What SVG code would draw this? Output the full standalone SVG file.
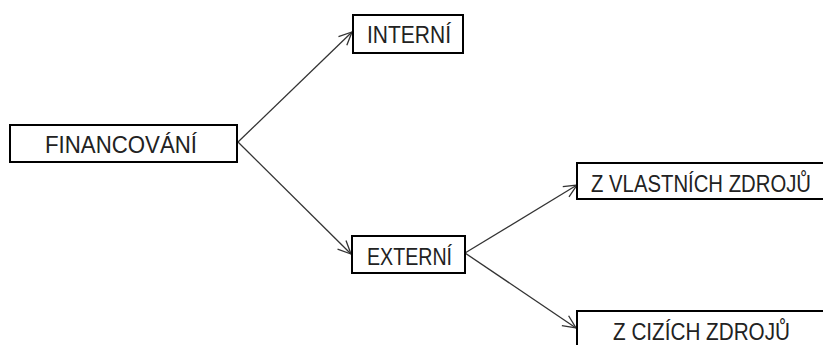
<svg xmlns="http://www.w3.org/2000/svg" width="823" height="345" viewBox="0 0 823 345">
  <style>
    .box { fill: #ffffff; stroke: #000000; stroke-width: 2; }
    .lbl { font-family: "Liberation Sans", Arial, sans-serif; font-size: 24px; fill: #222222; }
    .edge { fill: none; stroke: #333333; stroke-width: 1.3; marker-end: url(#arrow); }
  </style>
  <defs>
    <marker id="arrow" markerUnits="userSpaceOnUse" viewBox="-14 -8 16 16" refX="0" refY="0" markerWidth="16" markerHeight="16" orient="auto">
      <path d="M-13,-6 L0,0 L-13,6" fill="none" stroke="#333333" stroke-width="1.3"/>
    </marker>
  </defs>
  <rect width="823" height="345" fill="#ffffff"/>

  <g id="connectors">
    <line class="edge" x1="238" y1="142" x2="352" y2="32"/>
    <line class="edge" x1="238" y1="142" x2="351" y2="254"/>
    <line class="edge" x1="465" y1="253" x2="577" y2="185"/>
    <line class="edge" x1="465" y1="253" x2="576" y2="328"/>
  </g>

  <g id="financovani">
    <rect class="box" x="10" y="125" width="227" height="37"/>
    <text class="lbl" x="45" y="153" textLength="152" lengthAdjust="spacingAndGlyphs">FINANCOVÁNÍ</text>
  </g>

  <g id="interni">
    <rect class="box" x="353" y="15" width="110" height="38"/>
    <text class="lbl" x="367" y="43" textLength="84" lengthAdjust="spacingAndGlyphs">INTERNÍ</text>
  </g>

  <g id="externi">
    <rect class="box" x="352" y="236" width="113" height="37"/>
    <text class="lbl" x="367" y="265" textLength="85" lengthAdjust="spacingAndGlyphs">EXTERNÍ</text>
  </g>

  <g id="z-vlastnich-zdroju">
    <rect class="box" x="577" y="163" width="260" height="36"/>
    <text class="lbl" x="591" y="192" textLength="220" lengthAdjust="spacingAndGlyphs">Z VLASTNÍCH ZDROJŮ</text>
  </g>

  <g id="z-cizich-zdroju">
    <rect class="box" x="577" y="311" width="260" height="40"/>
    <text class="lbl" x="613" y="340" textLength="177" lengthAdjust="spacingAndGlyphs">Z CIZÍCH ZDROJŮ</text>
  </g>
</svg>
